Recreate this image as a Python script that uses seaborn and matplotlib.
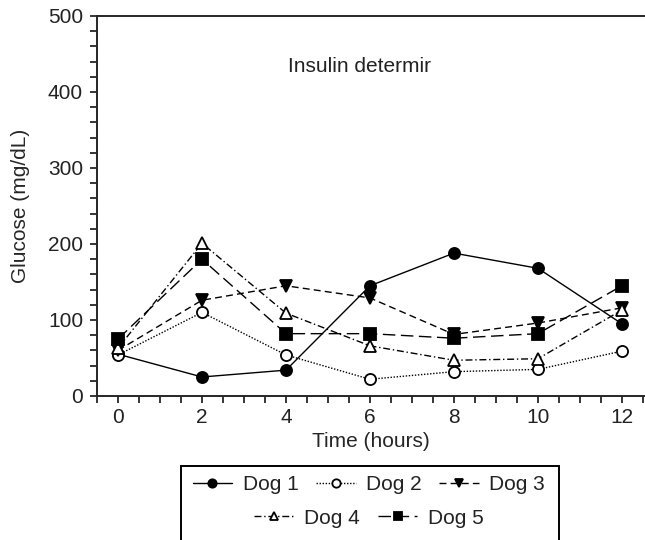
import numpy as np
import pandas as pd
import matplotlib.pyplot as plt
import seaborn as sns
from matplotlib.ticker import MultipleLocator
from matplotlib.patches import Rectangle

# Data
hours = [0, 2, 4, 6, 8, 10, 12]
dog1 = [55, 25, 34, 145, 188, 168, 95]
dog2 = [54, 110, 54, 22, 32, 35, 59]
dog3 = [60, 126, 145, 129, 81, 96, 116]
dog4 = [63, 201, 109, 66, 47, 49, 113]
dog5 = [75, 180, 82, 82, 76, 82, 145]
dog_names = ['Dog 1', 'Dog 2', 'Dog 3', 'Dog 4', 'Dog 5']

sns.set_style('ticks')
plt.rcParams['font.family'] = ['Liberation Sans', 'DejaVu Sans']
plt.rcParams['font.size'] = 15
plt.rcParams['text.color'] = '#222222'

fig = plt.figure(figsize=(6.45, 5.4), dpi=100)
ax = fig.add_axes([0.1504, 0.2667, 0.8496, 0.7037])

series = [dog1, dog2, dog3, dog4, dog5]
styles = [
    dict(marker='o', linestyle='-', mfc='black'),
    dict(marker='o', linestyle=(0, (1, 1.2)), mfc='white'),
    dict(marker='v', linestyle=(0, (5, 3)), mfc='black'),
    dict(marker='^', linestyle=(0, (5, 2, 1, 2)), mfc='white'),
    dict(marker='s', linestyle=(0, (9, 4)), mfc='black'),
]

for name, vals, st in zip(dog_names, series, styles):
    sns.lineplot(x=hours, y=vals, ax=ax, color='black', linewidth=1.0,
                 marker=st['marker'], linestyle=st['linestyle'],
                 markerfacecolor=st['mfc'], markeredgecolor='black',
                 markeredgewidth=1.3, markersize=8, label=name, legend=False)

ax.set_xlim(-0.5, 12.55)
ax.set_ylim(0, 500)
ax.xaxis.set_major_locator(MultipleLocator(2))
ax.xaxis.set_minor_locator(MultipleLocator(0.5))
ax.yaxis.set_major_locator(MultipleLocator(100))
ax.yaxis.set_minor_locator(MultipleLocator(20))
ax.tick_params(which='both', direction='out', length=5, width=1.3, labelsize=15,
               labelcolor='#222222')
ax.tick_params(axis='y', pad=5)
ax.tick_params(axis='x', pad=4)
for s in ['left', 'bottom', 'top']:
    ax.spines[s].set_linewidth(1.4)
ax.spines['right'].set_visible(False)

ax.set_xlabel('Time (hours)', fontsize=15, labelpad=3)
ax.set_ylabel('Glucose (mg/dL)', fontsize=15, labelpad=13)
ax.text(5.76, 434, 'Insulin determir', ha='center', va='center', fontsize=15)

handles, labels = ax.get_legend_handles_labels()
leg_kw = dict(loc='center', frameon=False, fontsize=15, handlelength=1.9,
              handletextpad=0.5, columnspacing=0.85, borderpad=0, borderaxespad=0)
leg1 = fig.legend(handles[:3], labels[:3], bbox_to_anchor=(0.572, 1 - 485 / 540),
                  ncol=3, **leg_kw)
leg2 = fig.legend(handles[3:], labels[3:], bbox_to_anchor=(0.572, 1 - 518 / 540),
                  ncol=2, **leg_kw)
for lg in (leg1, leg2):
    for h in lg.legend_handles:
        h.set_markersize(6)
fig.add_artist(Rectangle((181 / 645, -0.01), (559 - 181) / 645, 1.01 - 466 / 540,
                         transform=fig.transFigure, fill=False,
                         edgecolor='black', linewidth=1.4))

fig.savefig('out.png', dpi=100)
